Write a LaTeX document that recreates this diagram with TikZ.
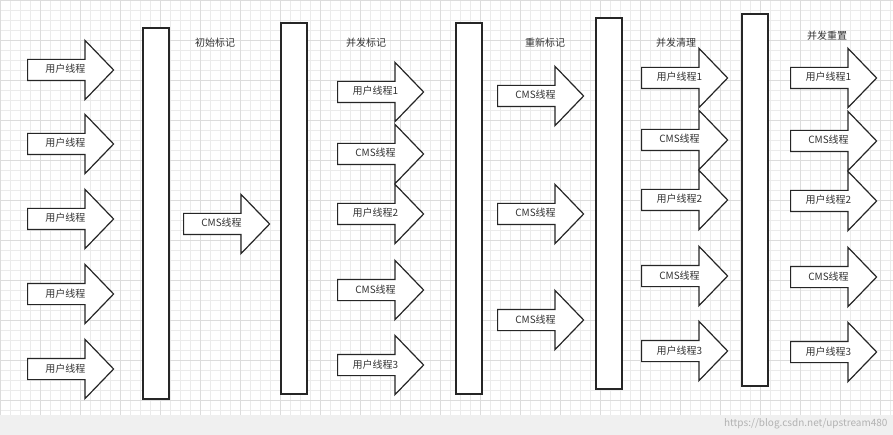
\documentclass[tikz,border=0pt]{standalone}
\usepackage{fontspec}
\setmainfont{Noto Sans CJK SC}
\usetikzlibrary{shapes.arrows}
\definecolor{gridc}{HTML}{EBEBEB}
\definecolor{gridm}{HTML}{DCDCDC}
\definecolor{txt}{HTML}{333333}
\tikzset{
  arw/.style={single arrow, draw=black!85, line width=1.2pt, fill=white, minimum height=86pt, minimum width=58pt, single arrow head extend=19pt, single arrow tip angle=92, inner sep=1pt, text height=12pt, text depth=6pt, font=\fontsize{10}{11}\selectfont, text=txt, anchor=west},
  bar/.style={draw=black!85, line width=1.2pt, fill=white},
  head/.style={font=\fontsize{10}{11}\selectfont, text=txt}
}
\begin{document}
\begin{tikzpicture}[x=1pt,y=-1pt]
\useasboundingbox (0,0) rectangle (893,435);
\fill[white] (0,0) rectangle (893,435);
\foreach \i in {0,10,...,890} \draw[gridc,line width=0.5pt] (\i,0)--(\i,415);
\foreach \j in {0,10,...,410} \draw[gridc,line width=0.5pt] (0,\j)--(893,\j);
\foreach \i in {0,40,...,880} \draw[gridm,line width=0.6pt] (\i,0)--(\i,415);
\foreach \j in {0,40,...,400} \draw[gridm,line width=0.6pt] (0,\j)--(893,\j);
\fill[black!6] (0,415) rectangle (893,435);
\node[anchor=east, text=black!30, font=\fontsize{10}{11}\selectfont] (wm) at (891,424) {https://blog.csdn.net/upstream480};
% bars
\draw[bar] (143,28) rectangle (169,399) node[midway] (b1) {};
\draw[bar] (281,23) rectangle (307,394) node[midway] (b2) {};
\draw[bar] (456,23) rectangle (482,394) node[midway] (b3) {};
\draw[bar] (596,18) rectangle (622,389) node[midway] (b4) {};
\draw[bar] (742,14) rectangle (768,386) node[midway] (b5) {};
% headings
\node[head] (h1) at (215,43) {初始标记};
\node[head] (h2) at (366,43) {并发标记};
\node[head] (h3) at (545,43) {重新标记};
\node[head] (h4) at (676,43) {并发清理};
\node[head] (h5) at (827,36) {并发重置};
% column 1
\foreach \y/\n in {70/a1,144/a2,219/a3,294/a4,369/a5}
  \node[arw] (\n) at (27,\y) {用户线程};
% column 2
\node[arw] (c1) at (183,224) {CMS线程};
% column 3
\node[arw] (d1) at (337,92) {用户线程1};
\node[arw] (d2) at (337,154) {CMS线程};
\node[arw] (d3) at (337,214) {用户线程2};
\node[arw] (d4) at (337,290) {CMS线程};
\node[arw] (d5) at (337,365) {用户线程3};
% column 4
\node[arw] (e1) at (497,96) {CMS线程};
\node[arw] (e2) at (497,214) {CMS线程};
\node[arw] (e3) at (497,320) {CMS线程};
% column 5
\node[arw] (f1) at (641,78) {用户线程1};
\node[arw] (f2) at (641,140) {CMS线程};
\node[arw] (f3) at (641,200) {用户线程2};
\node[arw] (f4) at (641,276) {CMS线程};
\node[arw] (f5) at (641,351) {用户线程3};
% column 6
\node[arw] (g1) at (790,78) {用户线程1};
\node[arw] (g2) at (790,141) {CMS线程};
\node[arw] (g3) at (790,201) {用户线程2};
\node[arw] (g4) at (790,277) {CMS线程};
\node[arw] (g5) at (790,352) {用户线程3};
\end{tikzpicture}
\end{document}
